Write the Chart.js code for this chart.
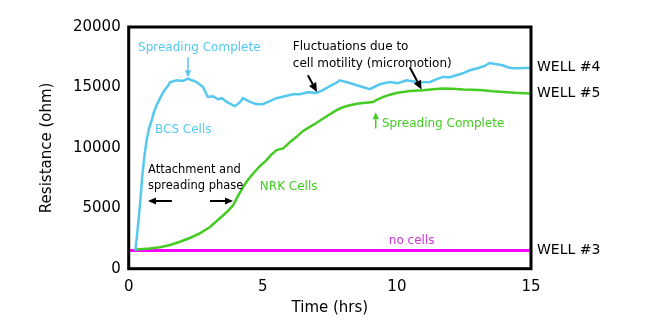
<!DOCTYPE html>
<html>
<head>
<meta charset="utf-8">
<script src="https://cdn.jsdelivr.net/npm/chart.js@4/dist/chart.umd.min.js"></script>
<style>
  html, body { margin: 0; padding: 0; background: #fff; }
  canvas { display: block; }
</style>
</head>
<body>
<canvas id="ecis" width="661" height="326"></canvas>
<script>
// resistance traces, time in hours, resistance in ohm
var bcsTime = [0.25, 0.33, 0.42, 0.51, 0.59, 0.67, 0.76, 0.86, 0.94, 1.04, 1.17, 1.29, 1.39, 1.48, 1.54, 1.79, 2.02, 2.22, 2.36, 2.53, 2.77, 2.95, 3.14, 3.33, 3.48, 3.65, 3.81, 3.96, 4.15, 4.26, 4.52, 4.77, 5.0, 5.26, 5.51, 5.82, 6.12, 6.38, 6.68, 7.0, 7.24, 7.5, 7.72, 7.87, 8.24, 8.62, 8.99, 9.36, 9.74, 10.03, 10.36, 10.78, 11.23, 11.49, 11.71, 11.97, 12.22, 12.46, 12.72, 13.01, 13.24, 13.46, 13.72, 13.95, 14.13, 14.32, 14.58, 14.95];
var bcsOhm  = [1500, 3200, 5260, 7740, 9400, 10640, 11630, 12290, 12950, 13530, 14110, 14600, 14930, 15180, 15430, 15590, 15540, 15730, 15590, 15450, 15040, 14210, 14270, 14020, 14110, 13800, 13610, 13450, 13780, 14110, 13800, 13610, 13610, 13860, 14110, 14270, 14440, 14440, 14600, 14550, 14770, 15100, 15350, 15590, 15370, 15100, 14850, 15260, 15450, 15350, 15590, 15430, 15450, 15680, 15870, 15840, 16010, 16170, 16420, 16590, 16750, 17020, 16920, 16830, 16670, 16590, 16590, 16630];

var nrkTime = [0.27, 0.79, 1.17, 1.54, 1.91, 2.28, 2.65, 3.03, 3.4, 3.66, 3.9, 4.07, 4.27, 4.44, 4.64, 4.89, 5.14, 5.3, 5.51, 5.76, 6.01, 6.26, 6.49, 6.75, 6.98, 7.25, 7.5, 7.75, 7.98, 8.25, 8.51, 8.74, 9.11, 9.29, 9.49, 9.74, 9.98, 10.48, 10.98, 11.34, 11.72, 12.08, 12.47, 12.83, 13.21, 13.57, 13.96, 14.39, 14.95];
var nrkOhm  = [1590, 1670, 1770, 1960, 2230, 2540, 2930, 3450, 4170, 4690, 5260, 6010, 6780, 7330, 7880, 8490, 8980, 9400, 9810, 9950, 10470, 10910, 11380, 11730, 12040, 12430, 12780, 13120, 13360, 13530, 13650, 13720, 13800, 14020, 14210, 14400, 14540, 14710, 14770, 14850, 14910, 14890, 14830, 14810, 14770, 14690, 14630, 14560, 14500];

var emptyTime = [0, 15];
var emptyOhm  = [1500, 1500];

var wellNames = ['WELL #4', 'WELL #5', 'WELL #3'];
var xTicks = [0, 5, 10, 15];
var yTicks = [0, 5000, 10000, 15000, 20000];

var CYAN = '#55c8f0';
var GREEN = '#44cc22';
var MAGENTA = '#ff00ff';

function toPoints(ts, vs) {
    var pts = [];
    for (var i = 0; i < ts.length; i++) {
        pts.push({ x: ts[i], y: vs[i] });
    }
    return pts;
}

// text notes placed in data units (left edge, vertical centre)
var notes = [
    { text: 'Spreading Complete', t: 0.35, r: 18240, color: CYAN, size: 12 },
    { text: 'BCS Cells', t: 0.98, r: 11470, color: CYAN, size: 12 },
    { text: 'Fluctuations due to', t: 6.12, r: 18350, color: '#000', size: 12 },
    { text: 'cell motility (micromotion)', t: 6.12, r: 16980, color: '#000', size: 12 },
    { text: 'Spreading Complete', t: 9.44, r: 12020, color: GREEN, size: 12 },
    { text: 'Attachment and', t: 0.72, r: 8160, color: '#000', size: 11.5 },
    { text: 'spreading phase', t: 0.72, r: 6880, color: '#000', size: 11.5 },
    { text: 'NRK Cells', t: 4.89, r: 6780, color: GREEN, size: 12 },
    { text: 'no cells', t: 9.7, r: 2310, color: '#cc33dd', size: 12 }
];

// arrows: from (t1,r1) to (t2,r2), head at the second point
var arrows = [
    { t1: 2.21, r1: 17500, t2: 2.21, r2: 15850, color: CYAN, w: 1.5, head: 7 },
    { t1: 6.68, r1: 16000, t2: 7.02, r2: 14630, color: '#000', w: 2, head: 9 },
    { t1: 10.48, r1: 16670, t2: 10.92, r2: 14830, color: '#000', w: 2, head: 9 },
    { t1: 9.21, r1: 11600, t2: 9.21, r2: 12950, color: GREEN, w: 1.5, head: 7 },
    { t1: 1.61, r1: 5600, t2: 0.72, r2: 5600, color: '#000', w: 2, head: 8 },
    { t1: 3.03, r1: 5600, t2: 3.89, r2: 5600, color: '#000', w: 2, head: 8 }
];

function drawArrow(ctx, x1, y1, x2, y2, color, w, head) {
    var ang = Math.atan2(y2 - y1, x2 - x1);
    var bx = x2 - Math.cos(ang) * head;
    var by = y2 - Math.sin(ang) * head;
    ctx.strokeStyle = color;
    ctx.fillStyle = color;
    ctx.lineWidth = w;
    ctx.beginPath();
    ctx.moveTo(x1, y1);
    ctx.lineTo(bx, by);
    ctx.stroke();
    var hw = head * 0.45;
    ctx.beginPath();
    ctx.moveTo(x2, y2);
    ctx.lineTo(bx + Math.sin(ang) * hw, by - Math.cos(ang) * hw);
    ctx.lineTo(bx - Math.sin(ang) * hw, by + Math.cos(ang) * hw);
    ctx.closePath();
    ctx.fill();
}

var notesPlugin = {
    id: 'notes',
    afterDatasetsDraw: function(chart) {
        var ctx = chart.ctx;
        var xs = chart.scales.x, ys = chart.scales.y;
        var area = chart.chartArea;
        ctx.save();

        // black frame round the plot
        ctx.strokeStyle = '#000';
        ctx.lineWidth = 3;
        ctx.strokeRect(area.left, area.top, area.right - area.left, area.bottom - area.top);

        ctx.textBaseline = 'middle';
        ctx.textAlign = 'left';
        notes.forEach(function(n) {
            ctx.font = n.size + 'px "DejaVu Sans"';
            ctx.fillStyle = n.color;
            ctx.fillText(n.text, xs.getPixelForValue(n.t), ys.getPixelForValue(n.r));
        });

        arrows.forEach(function(a) {
            drawArrow(ctx, xs.getPixelForValue(a.t1), ys.getPixelForValue(a.r1),
                xs.getPixelForValue(a.t2), ys.getPixelForValue(a.r2), a.color, a.w, a.head);
        });

        // well names next to the end of each trace
        ctx.font = '14px "DejaVu Sans"';
        ctx.fillStyle = '#000';
        chart.data.datasets.forEach(function(ds, i) {
            var last = ds.data[ds.data.length - 1];
            ctx.fillText(wellNames[i], area.right + 6, ys.getPixelForValue(last.y));
        });
        ctx.restore();
    }
};

Chart.defaults.font.family = '"DejaVu Sans"';

var ctx = document.getElementById('ecis').getContext('2d');
new Chart(ctx, {
    type: 'line',
    data: {
        datasets: [
            {
                label: 'BCS Cells',
                data: toPoints(bcsTime, bcsOhm),
                borderColor: CYAN,
                borderWidth: 2.5,
                pointRadius: 0,
                fill: false
            },
            {
                label: 'NRK Cells',
                data: toPoints(nrkTime, nrkOhm),
                borderColor: GREEN,
                borderWidth: 2.5,
                pointRadius: 0,
                fill: false
            },
            {
                label: 'no cells',
                data: toPoints(emptyTime, emptyOhm),
                borderColor: MAGENTA,
                borderWidth: 3,
                pointRadius: 0,
                fill: false
            }
        ]
    },
    options: {
        responsive: false,
        animation: false,
        layout: { padding: { top: 27, right: 130, left: 0, bottom: 0 } },
        plugins: {
            legend: { display: false },
            tooltip: { enabled: false }
        },
        scales: {
            x: {
                type: 'linear',
                min: 0,
                max: 15,
                afterBuildTicks: function(s) { s.ticks = xTicks.map(function(v) { return { value: v }; }); },
                afterFit: function(s) { s.height = 57.3; },
                ticks: { color: '#000', font: { size: 15 }, padding: 9, callback: function(v) { return String(v); } },
                grid: { display: false, drawTicks: false },
                border: { display: false },
                title: { display: true, text: 'Time (hrs)', color: '#000', font: { size: 15 }, padding: { top: 0, bottom: 9 } }
            },
            y: {
                min: 0,
                max: 20000,
                afterBuildTicks: function(s) { s.ticks = yTicks.map(function(v) { return { value: v }; }); },
                afterFit: function(s) { s.width = 128.7; },
                ticks: { color: '#000', font: { size: 15 }, padding: 8, callback: function(v) { return String(v); } },
                grid: { display: false, drawTicks: false },
                border: { display: false },
                title: { display: true, text: 'Resistance (ohm)', color: '#000', font: { size: 15 }, padding: { top: 38.5, bottom: 0 } }
            }
        }
    },
    plugins: [notesPlugin]
});
</script>
</body>
</html>
